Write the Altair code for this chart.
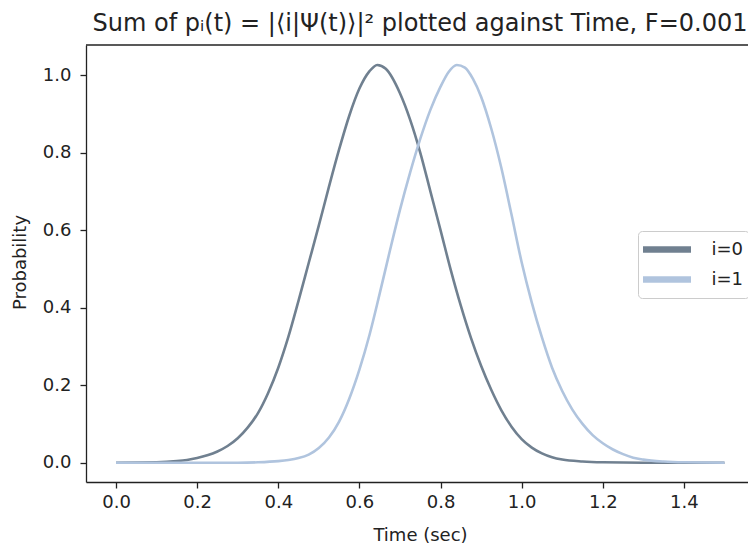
import altair as alt
import pandas as pd

# ---- data ----
series = ["i=0", "i=1"]
colors = ["#708090", "#b0c4de"]

t0 = [0.0, 0.10, 0.15, 0.175, 0.20, 0.225, 0.25, 0.275, 0.30, 0.325, 0.35, 0.375,
      0.40, 0.425, 0.45, 0.475, 0.50, 0.525, 0.55, 0.575, 0.60, 0.625, 0.644, 0.665,
      0.70, 0.725, 0.75, 0.775, 0.80, 0.825, 0.85, 0.875, 0.90, 0.925, 0.95, 0.975,
      1.00, 1.025, 1.05, 1.075, 1.10, 1.15, 1.20, 1.30, 1.50]
p0 = [0.0, 0.001, 0.004, 0.007, 0.012, 0.019, 0.029, 0.043, 0.063, 0.091, 0.128, 0.180,
      0.245, 0.325, 0.418, 0.515, 0.612, 0.712, 0.808, 0.895, 0.965, 1.010, 1.026, 1.016,
      0.953, 0.885, 0.800, 0.700, 0.600, 0.498, 0.405, 0.322, 0.250, 0.188, 0.135, 0.093,
      0.061, 0.039, 0.024, 0.014, 0.008, 0.003, 0.001, 0.0, 0.0]

t1 = [0.0, 0.30, 0.35, 0.40, 0.425, 0.45, 0.475, 0.50, 0.525, 0.55, 0.575, 0.60,
      0.625, 0.65, 0.675, 0.70, 0.725, 0.75, 0.775, 0.80, 0.82, 0.84, 0.86, 0.88,
      0.90, 0.925, 0.95, 0.975, 1.00, 1.025, 1.05, 1.075, 1.10, 1.125, 1.15, 1.175,
      1.20, 1.225, 1.25, 1.275, 1.30, 1.35, 1.40, 1.50]
p1 = [0.0, 0.0, 0.001, 0.004, 0.007, 0.012, 0.021, 0.038, 0.065, 0.106, 0.165, 0.240,
      0.330, 0.436, 0.546, 0.652, 0.748, 0.835, 0.910, 0.970, 1.008, 1.026, 1.019, 0.990,
      0.944, 0.862, 0.760, 0.640, 0.517, 0.413, 0.323, 0.245, 0.185, 0.137, 0.100, 0.071,
      0.050, 0.034, 0.022, 0.013, 0.008, 0.003, 0.001, 0.0]

x_ticks = [0.0, 0.2, 0.4, 0.6, 0.8, 1.0, 1.2, 1.4]
y_ticks = [0.0, 0.2, 0.4, 0.6, 0.8, 1.0]

title_text = "Sum of pᵢ(t) = |⟨i|Ψ(t)⟩|² plotted against Time, F=0.001"

df = pd.concat([
    pd.DataFrame({"t": t0, "p": p0, "s": series[0]}),
    pd.DataFrame({"t": t1, "p": p1, "s": series[1]}),
], ignore_index=True)

W, H = 662, 437
FONT = "DejaVu Sans"
INK = "#222222"

lines = alt.Chart(df).mark_line(strokeWidth=2.6, interpolate="monotone", clip=True).encode(
    x=alt.X("t:Q",
            scale=alt.Scale(domain=[-0.074, 1.558], nice=False, zero=False),
            axis=alt.Axis(values=x_ticks, format=".1f", title="Time (sec)",
                          titleX=334, titleY=58, titleBaseline="alphabetic",
                          labelPadding=5)),
    y=alt.Y("p:Q",
            scale=alt.Scale(domain=[-0.0498, 1.0774], nice=False, zero=False),
            axis=alt.Axis(values=y_ticks, format=".1f", title="Probability",
                          titleX=-61, titleY=217, titleBaseline="alphabetic",
                          titleAngle=270, labelPadding=9)),
    color=alt.Color("s:N",
                    scale=alt.Scale(domain=series, range=colors),
                    legend=alt.Legend(title=None, orient="none",
                                      legendX=552, legendY=186,
                                      symbolType="M-2.4,0H2.4", symbolSize=400,
                                      symbolStrokeWidth=6.5, symbolOffset=10.5,
                                      labelOffset=31, labelFontSize=18, labelFont=FONT,
                                      labelColor=INK, rowPadding=3, padding=5,
                                      strokeColor="#cccccc", cornerRadius=4,
                                      fillColor="rgba(255,255,255,0.8)")),
)

frame_df = pd.DataFrame({"a": [0]})
top_spine = alt.Chart(frame_df).mark_rule(color=INK, strokeWidth=1.3).encode(
    x=alt.value(0), x2=alt.value(W), y=alt.value(0)
)

chart = alt.layer(lines, top_spine).properties(
    width=W, height=H,
    title=alt.TitleParams(text=title_text, fontSize=24, font=FONT, fontWeight="normal",
                          color=INK, anchor="middle", offset=8, dx=3),
    padding={"left": 86, "top": 45, "right": 0, "bottom": 64},
    autosize=alt.AutoSizeParams(type="none"),
).configure_view(stroke=None).configure_axis(
    grid=False, domainColor=INK, domainWidth=1.3, tickColor=INK, tickWidth=1.3,
    tickSize=6, labelFont=FONT, labelFontSize=18, labelColor=INK,
    titleFont=FONT, titleFontSize=18, titleFontWeight="normal", titleColor=INK,
)

chart.save("out.html", embed_options={"renderer": "svg", "actions": False})
